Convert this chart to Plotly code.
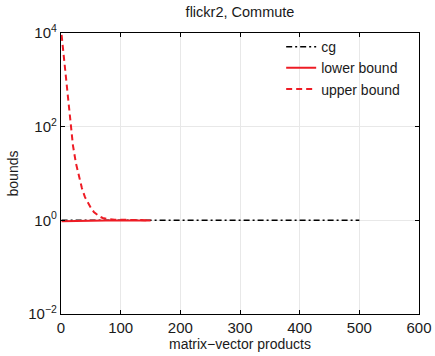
import plotly.graph_objects as go

# Conjugate-gradient estimate and Gauss-quadrature bounds (flickr2, Commute)
cg_x = [1, 100, 200, 300, 400, 500]
cg_y = [1.0, 1.0, 1.0, 1.0, 1.0, 1.0]

lower_x = [1, 25, 50, 75, 100, 125, 150]
lower_y = [0.96, 0.98, 0.99, 0.99, 0.99, 0.99, 0.99]

upper_x = [1, 5, 10, 15, 20, 25, 30, 35, 40, 45, 50, 55, 60, 65, 70, 75, 80,
           90, 100, 110, 120, 130, 140, 150]
upper_y = [9100, 2800, 630, 140, 40, 16.6, 8.3, 4.9, 3.16, 2.34, 1.86, 1.51,
           1.32, 1.2, 1.12, 1.08, 1.06, 1.035, 1.023, 1.015, 1.012, 1.01,
           1.01, 1.01]

y_tickvals = [1e-2, 1, 1e2, 1e4]
y_ticktext = ["10<sup>\u22122</sup>", "10<sup>0</sup>", "10<sup>2</sup>", "10<sup>4</sup>"]
x_tickvals = [0, 100, 200, 300, 400, 500, 600]

red = "#ee1c25"
ink = "#1a1a1a"

fig = go.Figure()
fig.add_trace(go.Scatter(x=cg_x, y=cg_y, mode="lines", name="cg",
                         line=dict(color="black", width=1.5, dash="6px,3px,2px,3px")))
fig.add_trace(go.Scatter(x=lower_x, y=lower_y, mode="lines", name="lower bound",
                         line=dict(color=red, width=2)))
fig.add_trace(go.Scatter(x=upper_x, y=upper_y, mode="lines", name="upper bound",
                         line=dict(color=red, width=2, dash="6px,4px")))

axis_common = dict(showline=True, linecolor="black", linewidth=1.2, mirror="ticks",
                   ticks="inside", ticklen=4, tickcolor="black", automargin=False,
                   showgrid=True, gridcolor="#e8e8e8", gridwidth=1, zeroline=False,
                   tickfont=dict(size=15, color=ink))

fig.update_xaxes(range=[0, 600], tickvals=x_tickvals,
                 title=dict(text="matrix\u2212vector products", font=dict(size=14, color=ink),
                            standoff=0),
                 **axis_common)
fig.update_yaxes(type="log", range=[-2, 4], tickvals=y_tickvals, ticktext=y_ticktext,
                 title=dict(text="bounds", font=dict(size=14, color=ink), standoff=6),
                 **axis_common)

fig.update_layout(
    width=435, height=356,
    margin=dict(l=61, r=16, t=33, b=42),
    paper_bgcolor="white", plot_bgcolor="white",
    font=dict(family="Liberation Sans, Arial, sans-serif", color=ink),
    title=dict(text="flickr2, Commute", x=(61 + 419) / 2 / 435, xanchor="center",
               y=1 - 12 / 356, yanchor="middle", font=dict(size=14.5, color=ink)),
    legend=dict(x=0.615, y=1.007, xanchor="left", yanchor="top",
                bgcolor="rgba(0,0,0,0)", font=dict(size=14, color=ink),
                tracegroupgap=0, itemwidth=30),
    showlegend=True,
)

fig.write_html("out.html")
